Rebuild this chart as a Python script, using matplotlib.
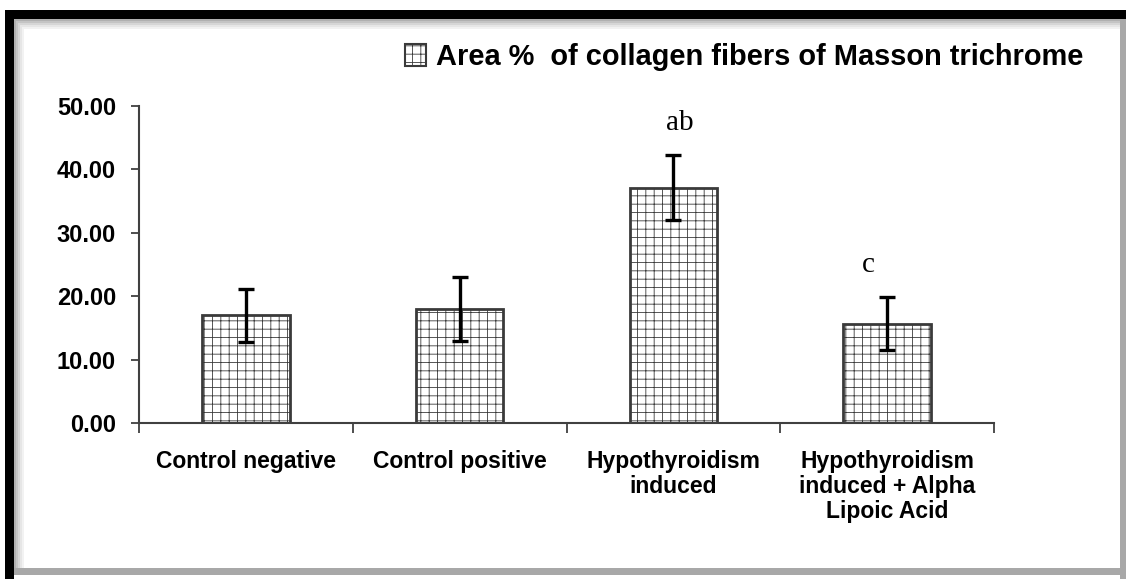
import numpy as np
import matplotlib
matplotlib.use("Agg")
import matplotlib.pyplot as plt
from matplotlib.patches import Rectangle, Patch

plt.rcParams['font.family'] = ['Liberation Sans', 'DejaVu Sans']
plt.rcParams['hatch.color'] = '#a8a8a8'
plt.rcParams['hatch.linewidth'] = 0.6

groups = ["Control negative", "Control positive", "Hypothyroidism\ninduced",
          "Hypothyroidism\ninduced + Alpha\nLipoic Acid"]
means = [17.0, 18.0, 37.1, 15.7]
errors = [4.2, 5.0, 5.1, 4.2]
letters = ["", "", "ab", "c"]
letter_dx = [0, 0, 0.03, -0.09]
yticks = [0, 10, 20, 30, 40, 50]
legend_label = "Area %  of collagen fibers of Masson trichrome"

W, H = 1126, 579
fig = plt.figure(figsize=(W / 100, H / 100), dpi=100)


def px(x0, y0, w, h, color):
    # rectangle in pixel units from the top-left corner
    fig.add_artist(Rectangle((x0 / W, 1 - (y0 + h) / H), w / W, h / H,
                             transform=fig.transFigure, color=color, lw=0,
                             zorder=0))


# frame: black on left/top, soft gray shading inside, gray shadow right/bottom
px(0, 0, W, H, 'white')
for i, g in enumerate(['#b0b0b0', '#c4c4c4', '#d6d6d6', '#e6e6e6', '#f2f2f2']):
    px(14 + 2 * i, 19 + 2 * i, 2, H - 19 - 10 - 2 * i, g)
    px(14 + 2 * i, 19 + 2 * i, W - 14 - 5 - 2 * i, 2, g)
px(1120, 19, 6, H - 19, '#a8a8a8')
px(14, 568, W - 14, 7, '#a8a8a8')
px(5, 10, 9, H - 10, 'black')
px(5, 10, W - 5, 9, 'black')

ax = fig.add_axes([139 / W, 1 - 423.3 / H, (994 - 139) / W, (423.3 - 106) / H])
ax.patch.set_alpha(0)

x = np.arange(len(groups))
ax.bar(x, means, width=0.41, color='white', edgecolor='#3a3a3a',
       linewidth=2.0, hatch='++', zorder=2)
ax.errorbar(x, means, yerr=errors, fmt='none', ecolor='black',
            elinewidth=2.4, capsize=5.8, capthick=2.4, zorder=3)

for xi, m, e, t, dx in zip(x, means, errors, letters, letter_dx):
    if t:
        ax.text(xi + dx, m + e + 3.0, t, ha='center', va='bottom',
                fontsize=21, family=['Liberation Serif', 'DejaVu Serif'])

ax.set_xlim(-0.5, len(groups) - 0.5)
ax.set_ylim(0, 50)
ax.set_yticks(yticks)
ax.set_yticklabels([f"{v:.2f}" for v in yticks], fontsize=17,
                   fontweight='bold')

ax.set_xticks(np.arange(len(groups) + 1) - 0.5)
ax.set_xticklabels([])
ax.set_xticks(x, minor=True)
ax.set_xticklabels(groups, minor=True, fontsize=16.5, fontweight='bold',
                   linespacing=1.12, va='top')
ax.tick_params(axis='x', which='minor', length=0, pad=19)
ax.tick_params(axis='x', which='major', length=7, width=1.3, color='#404040')
ax.tick_params(axis='y', length=5.5, width=1.3, color='#404040', pad=11)

for s in ('top', 'right'):
    ax.spines[s].set_visible(False)
for s in ('left', 'bottom'):
    ax.spines[s].set_color('#404040')
    ax.spines[s].set_linewidth(1.5)

handle = Patch(facecolor='white', edgecolor='#3a3a3a', hatch='++', lw=1.5)
fig.legend([handle], [legend_label], loc='center right',
           bbox_to_anchor=(1110 / W, 1 - 57 / H), frameon=False,
           handlelength=0.75, handleheight=0.75, handletextpad=0.35,
           prop={'weight': 'bold', 'size': 20.9})

fig.savefig('out.png', dpi=100)
